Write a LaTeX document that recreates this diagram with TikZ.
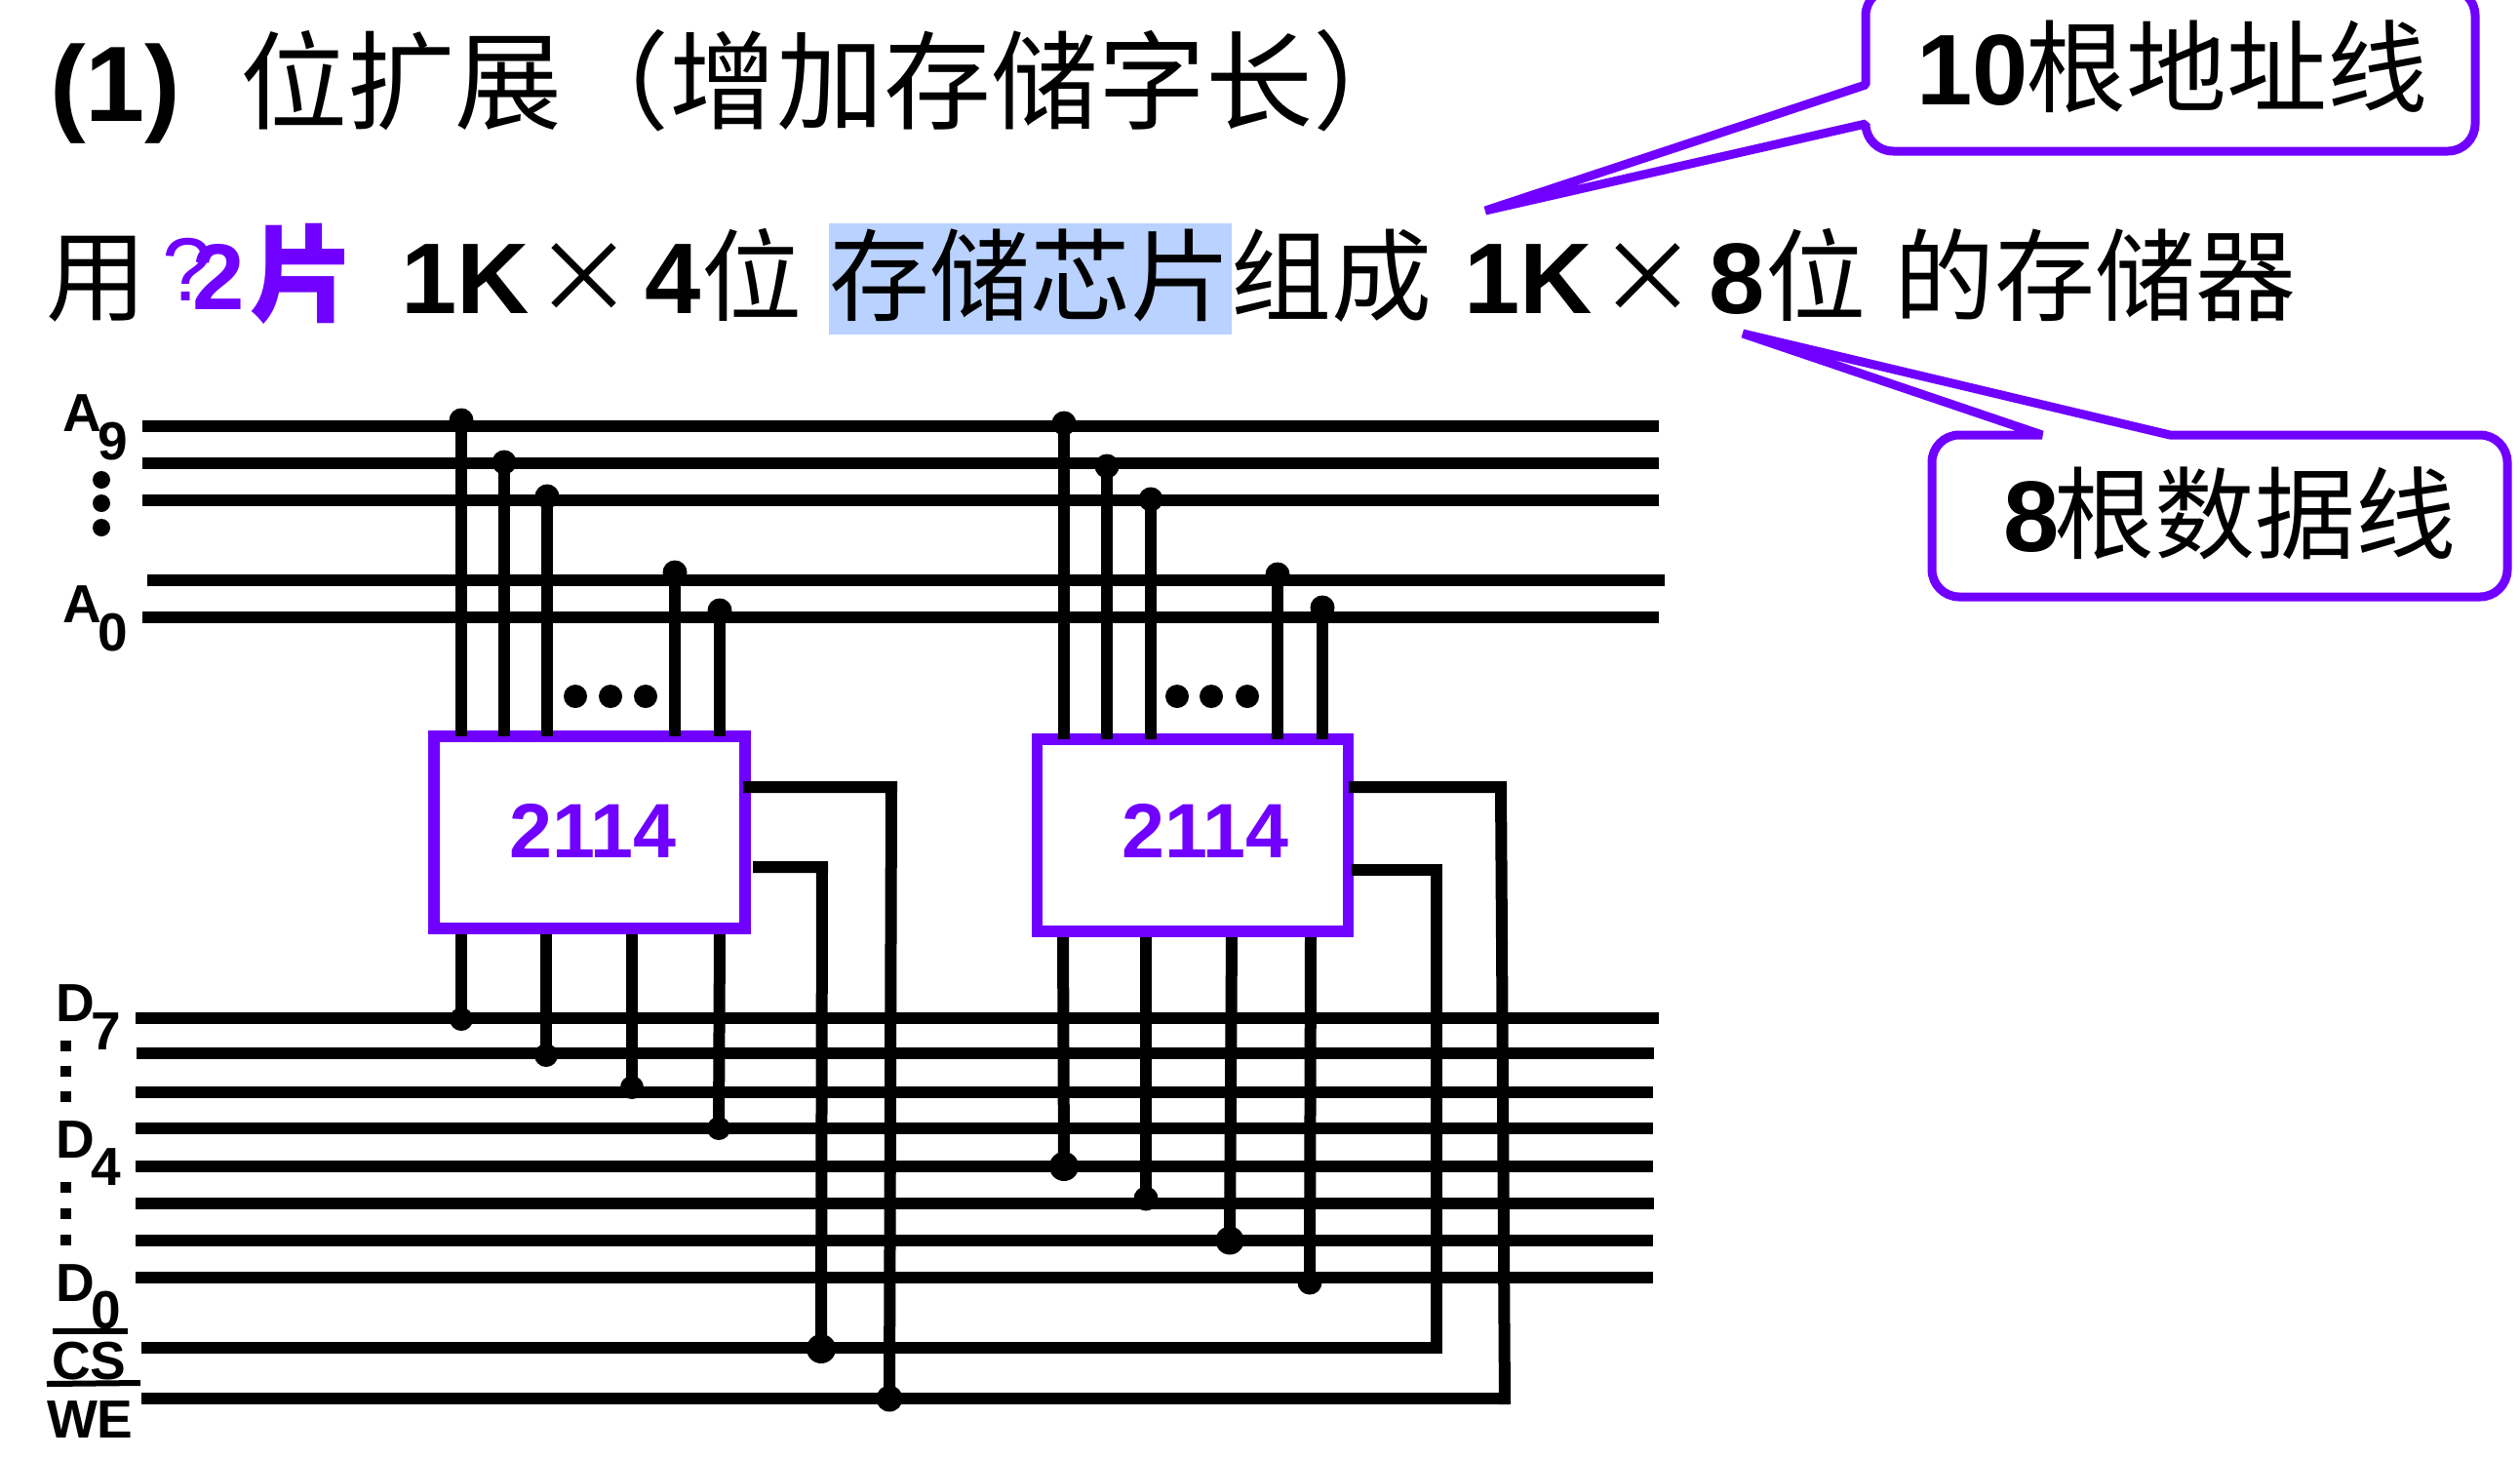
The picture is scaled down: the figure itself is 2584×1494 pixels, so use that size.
\documentclass[tikz,border=0pt]{standalone}
\usepackage{fontspec}
\setmainfont{Liberation Sans}
\newfontfamily\cjk{Noto Sans CJK SC}
\definecolor{vio}{HTML}{7000FF}
\definecolor{hl}{HTML}{B9D2FF}
\newcommand{\fs}[1]{\fontsize{#1}{#1}\selectfont}
\tikzset{
  x=0.5pt,y=-0.5pt,
  txt/.style={inner sep=0,outer sep=0,anchor=base west,text=black},
  title/.style={txt,font=\fs{55}\cjk},
  titlel/.style={txt,font=\fs{55}\bfseries},
  body/.style={txt,font=\fs{51.5}\cjk},
  bodyl/.style={txt,font=\fs{51.5}\bfseries},
  lab/.style={txt,font=\fs{27.5}\bfseries},
  bus/.style={line width=6.1pt},
  wire/.style={line width=6pt},
  chip/.style={draw=vio,line width=5.8pt,inner sep=0,outer sep=0,minimum width=159.5pt,minimum height=98.5pt},
  chipno/.style={inner sep=0,outer sep=0,anchor=base,text=vio,font=\fs{39.5}\bfseries},
  jd/.style={circle,fill=black,inner sep=0,outer sep=0,minimum size=#1},
  callout/.style={draw=vio,line width=4.5pt,line join=bevel},
  sq/.style={fill=black,inner sep=0,outer sep=0,minimum size=5.5pt},
  rd/.style={circle,fill=black,inner sep=0,outer sep=0,minimum size=9pt},
  md/.style={circle,fill=black,inner sep=0,outer sep=0,minimum size=12pt},
}
\begin{document}
\begin{tikzpicture}
\useasboundingbox (0,0) rectangle (2584,1494);
% highlight
\node[fill=hl,inner sep=0,outer sep=0,minimum width=206.5pt,minimum height=57pt] (hlbox) at (1056.5,286) {};
% heading
\node[titlel] (t1) at (51,124) {(1)};
\node[title] (t2) at (246,124) {位扩展（增加存储字长）};
% second line
\node[body] (b1) at (47,321) {用};
\node[txt,text=vio,font=\fs{46}] (b2) at (166,308) {?};
\node[txt,text=vio,font=\fs{48}\bfseries] (b3) at (197,317) {2};
\node[txt,text=vio,font=\fs{54}\cjk\bfseries] (b4) at (256,321) {片};
\node[bodyl] (b5) at (411,321) {1K};
\node[body] (b6) at (547,321) {×};
\node[bodyl] (b7) at (661,321) {4};
\node[body] (b8) at (719,321) {位};
\node[body] (b9) at (850,321) {存储芯片组成};
\node[bodyl] (b10) at (1501,321) {1K};
\node[body] (b11) at (1638,321) {×};
\node[bodyl] (b12) at (1752,321) {8};
\node[body] (b13) at (1810,321) {位};
\node[body] (b14) at (1942,321) {的存储器};
% callouts
\coordinate (tipa) at (1523,216);
\coordinate (tipb) at (1787,342);
\draw[callout] (tipa) -- (1913,87) [rounded corners=14pt] -- (1913,-12) -- (2538,-12) -- (2538,155) -- (1913,155) [sharp corners] -- (1913,127) -- cycle;
\draw[callout] (tipb) -- (2225,446) [rounded corners=14pt] -- (2571,446) -- (2571,612) -- (1981,612) -- (1981,446) [sharp corners] -- (2094,446) -- cycle;
\node[bodyl] (c1) at (1965,107) {10};
\node[body] (c2) at (2077,107) {根地址线};
\node[bodyl] (d1) at (2054,565) {8};
\node[body] (d2) at (2106,565) {根数据线};
% buses
\foreach \n/\y/\xa/\xb in {a9/437/146/1701,a8/475/146/1701,a7/513/146/1701,a1/595/151/1707,a0/633/146/1701,
  d7/1044/139/1701,d6/1080/140/1696,d5/1120/139/1695,d4/1157/139/1695,d3/1196/139/1695,d2/1234/139/1696,d1/1272/139/1695,d0/1310/139/1695}{
  \coordinate (\n l) at (\xa,\y);
  \coordinate (\n r) at (\xb,\y);
  \draw[bus] (\n l) -- (\n r);
}
\coordinate (csl) at (145,1382);
\coordinate (csr) at (1476,1382);
\coordinate (wel) at (145,1434);
\coordinate (wer) at (1548,1434);
\draw[bus] (csl) -- (csr);
\draw[bus] (wel) -- (wer);
% junctions on the data lines
\node[jd=12pt] (p1) at (473,1045) {};
\node[jd=12pt] (p2) at (560,1082) {};
\node[jd=12pt] (p3) at (648,1115) {};
\node[jd=12pt] (p4) at (737,1157) {};
\node[jd=15pt] (q1) at (1091,1196) {};
\node[jd=12.5pt] (q2) at (1175,1229) {};
\node[jd=14.5pt] (q3) at (1261,1272) {};
\node[jd=12.5pt] (q4) at (1343,1315) {};
\coordinate (ub1) at (473,956);
\coordinate (ub2) at (560,956);
\coordinate (ub3) at (648,956);
\coordinate (ub4) at (738,956);
\coordinate (vb1) at (1090,958);
\coordinate (vb2) at (1175,958);
\coordinate (vb3) at (1263,958);
\coordinate (vb4) at (1344,958);
\foreach \a/\b in {ub1/p1,ub2/p2,ub3/p3,ub4/p4,vb1/q1,vb2/q2,vb3/q3,vb4/q4}{
  \draw[wire] (\a) -- (\b.center);
}
% chips
\node[chip] (chipa) at (604.5,853.5) {};
\node[chip] (chipb) at (1223,856.5) {};
\node[chipno] (noa) at (608,879) {2114};
\node[chipno] (nob) at (1236,879) {2114};
% address junctions and wires
\node[jd=12.5pt] (r1) at (473,431) {};
\node[jd=12.5pt] (r2) at (517,474) {};
\node[jd=12.5pt] (r3) at (561,509) {};
\node[jd=12.5pt] (r4) at (692,587) {};
\node[jd=12.5pt] (r5) at (738,626) {};
\node[jd=12.5pt] (s1) at (1091,434) {};
\node[jd=12.5pt] (s2) at (1135,478) {};
\node[jd=12.5pt] (s3) at (1180,512) {};
\node[jd=12.5pt] (s4) at (1310,589) {};
\node[jd=12.5pt] (s5) at (1356,623) {};
\foreach \a in {r1,r2,r3,r4,r5}{ \draw[wire] (\a.center) -- (\a |- chipa.north); }
\foreach \a in {s1,s2,s3,s4,s5}{ \draw[wire] (\a.center) -- (\a |- chipb.north); }
\node[md] (ea1) at (590,714) {};
\node[md] (ea2) at (626,714) {};
\node[md] (ea3) at (662,714) {};
\node[md] (eb1) at (1207,714) {};
\node[md] (eb2) at (1242,714) {};
\node[md] (eb3) at (1279,714) {};
% control wires
\node[jd=15pt] (csa) at (842,1383) {};
\node[jd=13.5pt] (wea) at (912,1434) {};
\coordinate (a1o) at (762,807);
\coordinate (a1k) at (914,807);
\coordinate (a2o) at (772,889);
\coordinate (a2k) at (843,889);
\coordinate (b1o) at (1383,807);
\coordinate (b1k) at (1539,807);
\coordinate (b2o) at (1386,892);
\coordinate (b2k) at (1473,892);
\draw[wire,line join=miter] (a1o) -- (a1k) -- (wea.center);
\draw[wire,line join=miter] (a2o) -- (a2k) -- (csa.center);
\draw[wire,line join=miter] (b1o) -- (b1k) -- (1543,1440);
\draw[wire,line join=miter] (b2o) -- (b2k) -- (1473,1388);
% left labels
\node[lab] (la9) at (64,442) {A};
\node[lab] (la9s) at (100,471) {9};
\node[rd] (x1) at (104,492) {};
\node[rd] (x2) at (104,516) {};
\node[rd] (x3) at (104,541) {};
\node[lab] (la0) at (64,638) {A};
\node[lab] (la0s) at (100,667) {0};
\node[lab] (ld7) at (57,1047) {D};
\node[lab] (ld7s) at (93,1076) {7};
\node[sq] (y1) at (67,1072) {};
\node[sq] (y2) at (67,1098) {};
\node[sq] (y3) at (67,1124) {};
\node[lab] (ld4) at (57,1187) {D};
\node[lab] (ld4s) at (93,1215) {4};
\node[sq] (y4) at (67,1217) {};
\node[sq] (y5) at (67,1244) {};
\node[sq] (y6) at (67,1271) {};
\node[lab] (ld0) at (57,1334) {D};
\node[lab] (ld0s) at (93,1362) {0};
\coordinate (ovca) at (54,1365);
\coordinate (ovcb) at (131,1365);
\coordinate (ovwa) at (48,1419);
\coordinate (ovwb) at (144,1418);
\draw[line width=3pt] (ovca) -- (ovcb);
\draw[line width=3pt] (ovwa) -- (ovwb);
\node[lab] (lcs) at (53,1414) {CS};
\node[lab] (lwe) at (48,1474) {WE};
\end{tikzpicture}
\end{document}
